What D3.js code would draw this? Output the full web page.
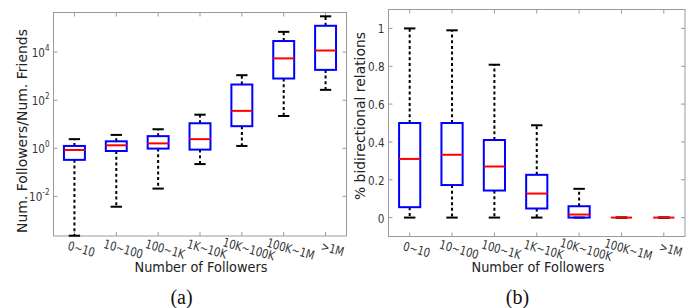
<!DOCTYPE html>
<html>
<head>
<meta charset="utf-8">
<script src="https://cdn.jsdelivr.net/npm/d3@7"></script>
<style>
  body { margin: 0; background: #fff; }
  svg { display: block; font-family: "DejaVu Sans", sans-serif; }
</style>
</head>
<body>
<svg id="chart" width="693" height="308"></svg>
<script>
'use strict';

// Categories (shared by both panels)
const categories = ["0~10", "10~100", "100~1K", "1K~10K", "10K~100K", "100K~1M", ">1M"];

// Panel (a): Num. Followers / Num. Friends (log scale)
const ratioLow    = [0.00023, 0.0037, 0.021, 0.22, 1.25, 22, 270];
const ratioQ1     = [0.33, 0.77, 0.97, 0.88, 8.3, 800, 1830];
const ratioMedian = [0.85, 1.33, 1.6, 2.4, 36, 5500, 11700];
const ratioQ3     = [1.25, 1.95, 3.2, 11, 450, 29000, 125000];
const ratioHigh   = [2.4, 3.6, 6.2, 25, 1100, 70000, 310000];
const ratioTicks  = [-2, 0, 2, 4];

// Panel (b): % bidirectional relations
const biLow    = [0, 0, 0, 0, 0, 0, 0];
const biQ1     = [0.055, 0.172, 0.143, 0.048, 0, 0, 0];
const biMedian = [0.31, 0.332, 0.27, 0.127, 0.016, 0, 0];
const biQ3     = [0.5, 0.5, 0.41, 0.226, 0.06, 0, 0];
const biHigh   = [1.0, 0.99, 0.808, 0.488, 0.152, 0, 0];
const biTicks  = [0, 0.2, 0.4, 0.6, 0.8, 1];

const svg = d3.select("#chart");
const frameColor = "#9a9a9a";
const textColor = "#333";
const squeeze = 0.8;   // the source figure is a bit narrower than tall

function boxPanel(opt) {
  const g = svg.append("g").attr("transform", `translate(${opt.x},${opt.y})`);
  const w = opt.w, h = opt.h;

  const xScale = d3.scaleLinear().domain([0.5, categories.length + 0.5]).range([0, w]);
  const yScale = opt.yScale.range([h, 0]);
  const step = xScale(2) - xScale(1);
  const boxW = step * 0.5;
  const capW = step * 0.27;

  const rows = categories.map((c, i) => ({
    pos: i + 1, lo: opt.lo[i], q1: opt.q1[i], med: opt.med[i], q3: opt.q3[i], hi: opt.hi[i]
  }));

  // frame
  g.append("rect")
    .attr("width", w).attr("height", h)
    .attr("fill", "none").attr("stroke", frameColor).attr("stroke-width", 1);

  // inward ticks on all four sides
  const tickLen = 4;
  const xt = d3.range(1, categories.length + 1);
  g.selectAll(".xt-b").data(xt).enter().append("line")
    .attr("x1", d => xScale(d)).attr("x2", d => xScale(d))
    .attr("y1", h).attr("y2", h - tickLen).attr("stroke", frameColor);
  g.selectAll(".xt-t").data(xt).enter().append("line")
    .attr("x1", d => xScale(d)).attr("x2", d => xScale(d))
    .attr("y1", 0).attr("y2", tickLen).attr("stroke", frameColor);
  g.selectAll(".yt-l").data(opt.ticks).enter().append("line")
    .attr("x1", 0).attr("x2", tickLen)
    .attr("y1", d => yScale(opt.tickValue(d))).attr("y2", d => yScale(opt.tickValue(d)))
    .attr("stroke", frameColor);
  g.selectAll(".yt-r").data(opt.ticks).enter().append("line")
    .attr("x1", w).attr("x2", w - tickLen)
    .attr("y1", d => yScale(opt.tickValue(d))).attr("y2", d => yScale(opt.tickValue(d)))
    .attr("stroke", frameColor);

  // y tick labels
  const yl = g.selectAll(".yl").data(opt.ticks).enter().append("text")
    .attr("transform", d => `translate(-4,${yScale(opt.tickValue(d)) + 5}) scale(${squeeze},1)`)
    .attr("text-anchor", "end")
    .attr("fill", textColor)
    .style("font-size", "13px");
  opt.tickLabel(yl);

  // x tick labels
  g.selectAll(".xl").data(categories).enter().append("text")
    .attr("transform", (d, i) => `translate(${xScale(i + 1) + 7},${h + 13}) rotate(16) scale(${squeeze},1)`)
    .attr("text-anchor", "middle")
    .attr("dy", "0.35em")
    .attr("fill", textColor)
    .style("font-size", "12.5px")
    .text(d => d);

  // axis titles
  g.append("text")
    .attr("x", opt.xTitleX).attr("y", 272 - opt.y)
    .attr("text-anchor", "middle")
    .attr("fill", "#222")
    .attr("textLength", 133).attr("lengthAdjust", "spacingAndGlyphs")
    .style("font-size", "14.5px")
    .text("Number of Followers");
  g.append("text")
    .attr("transform", `translate(${opt.yTitleX - opt.x},${opt.yTitleY - opt.y}) rotate(-90)`)
    .attr("text-anchor", "middle")
    .attr("fill", "#222")
    .attr("textLength", opt.yTitleLen).attr("lengthAdjust", "spacingAndGlyphs")
    .style("font-size", "14px")
    .text(opt.yTitle);

  // panel letter
  svg.append("text")
    .attr("x", opt.letterX).attr("y", 304)
    .attr("text-anchor", "middle")
    .attr("fill", "#111")
    .style("font-family", "'Liberation Serif', 'DejaVu Serif', serif")
    .style("font-size", "20px")
    .text(opt.letter);

  const boxes = g.selectAll(".box").data(rows).enter().append("g");

  // whiskers
  boxes.append("line")
    .attr("x1", d => xScale(d.pos)).attr("x2", d => xScale(d.pos))
    .attr("y1", d => yScale(d.q3)).attr("y2", d => yScale(d.hi))
    .attr("stroke", "#000").attr("stroke-width", 2).attr("stroke-dasharray", "3,2.7");
  boxes.append("line")
    .attr("x1", d => xScale(d.pos)).attr("x2", d => xScale(d.pos))
    .attr("y1", d => yScale(d.q1)).attr("y2", d => yScale(d.lo))
    .attr("stroke", "#000").attr("stroke-width", 2).attr("stroke-dasharray", "3,2.7");
  // caps
  ["hi", "lo"].forEach(k => {
    boxes.append("line")
      .attr("x1", d => xScale(d.pos) - capW / 2).attr("x2", d => xScale(d.pos) + capW / 2)
      .attr("y1", d => yScale(d[k])).attr("y2", d => yScale(d[k]))
      .attr("stroke", "#000").attr("stroke-width", 2);
  });
  // box
  boxes.append("rect")
    .attr("x", d => xScale(d.pos) - boxW / 2)
    .attr("y", d => yScale(d.q3))
    .attr("width", boxW)
    .attr("height", d => Math.max(0, yScale(d.q1) - yScale(d.q3)))
    .attr("fill", "none").attr("stroke", "#0000ff").attr("stroke-width", 2);
  // median
  boxes.append("line")
    .attr("x1", d => xScale(d.pos) - boxW / 2).attr("x2", d => xScale(d.pos) + boxW / 2)
    .attr("y1", d => yScale(d.med)).attr("y2", d => yScale(d.med))
    .attr("stroke", "#ff0000").attr("stroke-width", 2);
}

// (a)
boxPanel({
  x: 53.5, y: 12.5, w: 293, h: 223.5,
  yScale: d3.scaleLog().domain([Math.pow(10, -3.65), Math.pow(10, 5.65)]),
  lo: ratioLow, q1: ratioQ1, med: ratioMedian, q3: ratioQ3, hi: ratioHigh,
  ticks: ratioTicks,
  tickValue: d => Math.pow(10, d),
  tickLabel: sel => {
    sel.text("10");
    sel.append("tspan").attr("dy", -6).style("font-size", "9px").text(d => d);
  },
  xTitleX: 147.5, yTitle: "Num. Followers/Num. Friends",
  yTitleX: 27, yTitleY: 131, yTitleLen: 204,
  letter: "(a)", letterX: 181.5
});

// (b)
boxPanel({
  x: 388.5, y: 9.5, w: 296.5, h: 227,
  yScale: d3.scaleLinear().domain([-0.1, 1.1]),
  lo: biLow, q1: biQ1, med: biMedian, q3: biQ3, hi: biHigh,
  ticks: biTicks,
  tickValue: d => d,
  tickLabel: sel => sel.text(d => d === 0 || d === 1 ? d3.format("d")(d) : d3.format(".1f")(d)),
  xTitleX: 149.5, yTitle: "% bidirectional relations",
  yTitleX: 365, yTitleY: 116, yTitleLen: 168,
  letter: "(b)", letterX: 517.5
});
</script>
</body>
</html>
